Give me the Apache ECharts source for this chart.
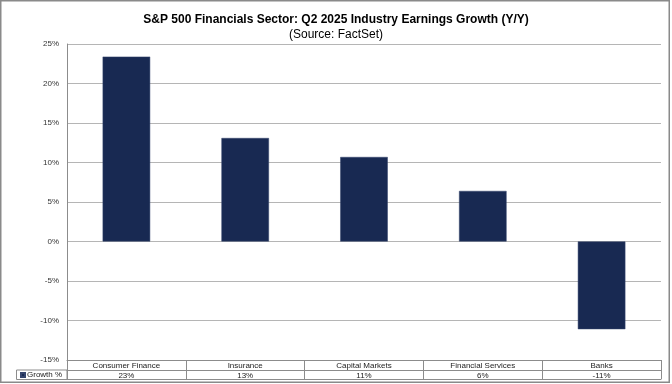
<!DOCTYPE html>
<html>
<head>
<meta charset="utf-8">
<script src="https://cdn.jsdelivr.net/npm/echarts@6/dist/echarts.min.js"></script>
<style>
html,body{margin:0;padding:0;background:#fff;}
#c{width:672px;height:384px;}
</style>
</head>
<body>
<div id="c"></div>
<script>
var categories = ['Consumer Finance', 'Insurance', 'Capital Markets', 'Financial Services', 'Banks'];
var growth = [23.4, 13.1, 10.7, 6.4, -11.1];
var seriesName = 'Growth %';
var yTicks = {min: -15, max: 25, interval: 5};

var FONT = '"Liberation Sans", Arial, sans-serif';
var GRID_COLOR = '#b5b5b5';
var TABLE_COLOR = '#8c8c8c';

var chart = echarts.init(document.getElementById('c'), null, {renderer: 'canvas'});
chart.setOption({
  animation: false,
  backgroundColor: '#fff',
  textStyle: {fontFamily: FONT},
  title: {
    text: 'S&P 500 Financials Sector: Q2 2025 Industry Earnings Growth (Y/Y)',
    subtext: '(Source: FactSet)',
    left: 'center',
    top: 9,
    itemGap: 3,
    textStyle: {fontFamily: FONT, fontSize: 12, fontWeight: 'bold', color: '#000'},
    subtextStyle: {fontFamily: FONT, fontSize: 12, color: '#000'}
  },
  legend: {
    left: 20,
    top: 371,
    padding: 0,
    itemWidth: 4,
    itemHeight: 4,
    itemGap: 2,
    icon: 'rect',
    textStyle: {fontFamily: FONT, fontSize: 8, color: '#222', padding: [0, 0, 0, -3]},
    data: [seriesName]
  },
  grid: {left: 67, right: 11, top: 44, bottom: 24, containLabel: false},
  xAxis: [
    {
      type: 'category',
      data: categories,
      position: 'bottom',
      axisLine: {show: true, onZero: false, lineStyle: {color: TABLE_COLOR, width: 1}},
      axisTick: {show: true, length: 19, interval: 0, lineStyle: {color: TABLE_COLOR, width: 1}},
      axisLabel: {interval: 0, margin: 2, fontSize: 8, color: '#222', fontFamily: FONT}
    },
    {
      type: 'category',
      data: categories,
      position: 'bottom',
      offset: 10,
      axisLine: {show: true, onZero: false, lineStyle: {color: TABLE_COLOR, width: 1}},
      axisTick: {show: false},
      axisLabel: {
        interval: 0, margin: 1.5, fontSize: 8, color: '#222', fontFamily: FONT,
        formatter: function (v, i) { return Math.round(growth[i]) + '%'; }
      }
    },
    {
      type: 'category',
      data: categories,
      position: 'bottom',
      offset: 19,
      axisLine: {show: true, onZero: false, lineStyle: {color: TABLE_COLOR, width: 1}},
      axisTick: {show: false},
      axisLabel: {show: false}
    }
  ],
  yAxis: {
    type: 'value',
    min: yTicks.min,
    max: yTicks.max,
    interval: yTicks.interval,
    axisLine: {show: true, lineStyle: {color: TABLE_COLOR, width: 1}},
    axisTick: {show: false},
    splitLine: {show: true, lineStyle: {color: GRID_COLOR, width: 1}},
    axisLabel: {margin: 8, fontSize: 8, color: '#333', fontFamily: FONT, formatter: '{value}%'}
  },
  graphic: [
    {
      type: 'rect',
      shape: {x: 16.5, y: 370, width: 50.5, height: 9.5},
      style: {fill: 'none', stroke: TABLE_COLOR, lineWidth: 1},
      silent: true
    },
    {
      type: 'rect',
      shape: {x: 0.75, y: 0.75, width: 668.5, height: 381.5},
      style: {fill: 'none', stroke: '#8a8a8a', lineWidth: 1.5},
      silent: true
    }
  ],
  series: [{
    name: seriesName,
    type: 'bar',
    data: growth,
    barWidth: '40%',
    itemStyle: {color: '#182952', borderColor: '#34446c', borderWidth: 0.5}
  }]
});
</script>
</body>
</html>
